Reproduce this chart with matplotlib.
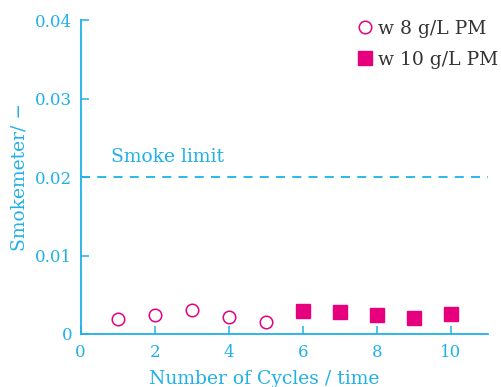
import matplotlib.pyplot as plt

# data
cycles_8 = [1, 2, 3, 4, 5]
smoke_8 = [0.0019, 0.0024, 0.0031, 0.0022, 0.0015]
cycles_10 = [6, 7, 8, 9, 10]
smoke_10 = [0.0029, 0.0028, 0.0024, 0.0020, 0.0025]
smoke_limit = 0.02

axis_color = '#1fb1e8'
mark_color = '#e6007e'

plt.rcParams['font.family'] = ['DejaVu Serif']

fig = plt.figure(figsize=(5.01, 3.87), dpi=100)
ax = fig.add_axes([0.161, 0.137, 0.813, 0.811])

ax.plot(cycles_8, smoke_8, 'o', markersize=9, markerfacecolor='none',
        markeredgecolor=mark_color, markeredgewidth=1.1, label='w 8 g/L PM', clip_on=False)
ax.plot(cycles_10, smoke_10, 's', markersize=9.5, color=mark_color,
        label='w 10 g/L PM', clip_on=False)

ax.axhline(smoke_limit, color=axis_color, linestyle=(0, (5, 4)), linewidth=1.3)
ax.text(0.82, 0.0226, 'Smoke limit', color=axis_color, fontsize=13.5, va='center')

ax.set_xlim(0, 11)
ax.set_ylim(0, 0.04)
ax.set_xticks([0, 2, 4, 6, 8, 10])
ax.set_yticks([0, 0.01, 0.02, 0.03, 0.04])
ax.set_yticklabels(['0', '0.01', '0.02', '0.03', '0.04'])

for s in ['top', 'right']:
    ax.spines[s].set_visible(False)
for s in ['left', 'bottom']:
    ax.spines[s].set_color(axis_color)
    ax.spines[s].set_linewidth(1.3)

ax.tick_params(direction='in', length=6, width=1.1, color=axis_color,
               labelcolor=axis_color, labelsize=12)
ax.tick_params(axis='y', pad=6)
ax.tick_params(axis='x', pad=7)

ax.set_xlabel('Number of Cycles / time', color=axis_color, fontsize=13.5)
ax.xaxis.set_label_coords(0.45, -0.115, transform=ax.transAxes)
ax.xaxis.label.set_va('top')
ax.set_ylabel('Smokemeter/ \u2212', color=axis_color, fontsize=13.5, labelpad=5)

leg = ax.legend(loc='upper right', frameon=False, fontsize=13.5, handletextpad=0.12,
                handlelength=1.1, borderaxespad=0.0, labelspacing=0.7,
                bbox_to_anchor=(1.043, 1.025))
for t in leg.get_texts():
    t.set_color('#333333')

plt.savefig('out.png', dpi=100)
